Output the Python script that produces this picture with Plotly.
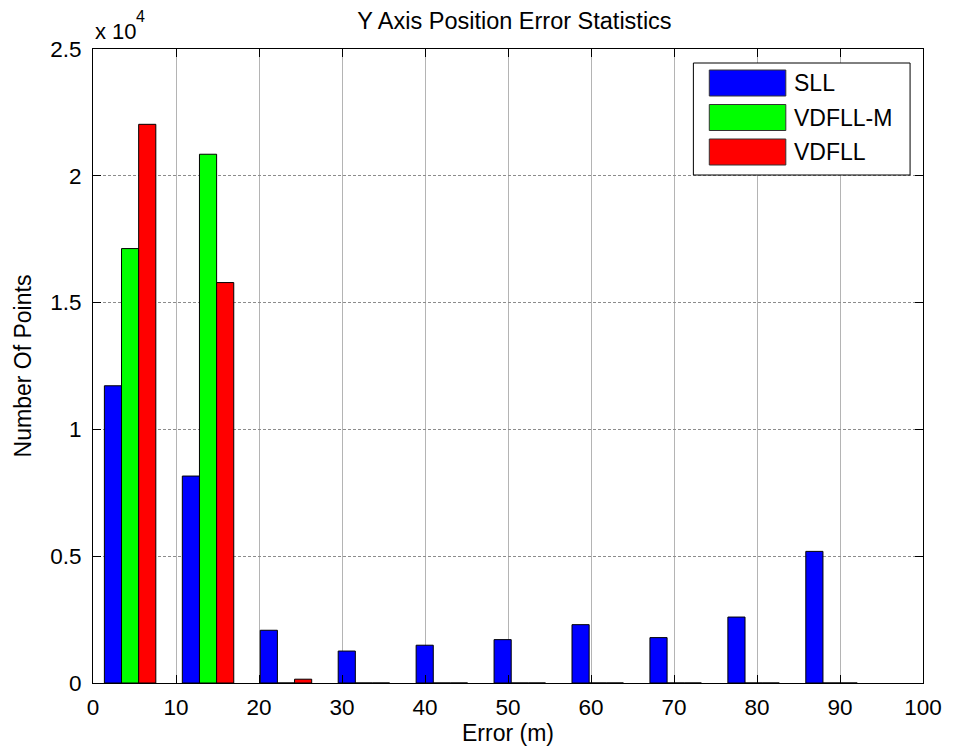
import plotly.graph_objects as go

# Histogram bin centres (m) and counts per tracking loop
bin_centers = [4.47, 13.86, 23.25, 32.64, 42.03, 51.42, 60.81, 70.20, 79.59, 88.98]
sll = [11720, 8160, 2080, 1260, 1490, 1710, 2300, 1790, 2600, 5190]
vdfll_m = [17130, 20850, 0, 0, 0, 0, 0, 0, 0, 0]
vdfll = [22030, 15790, 150, 0, 0, 0, 0, 0, 0, 0]

series_names = ["SLL", "VDFLL-M", "VDFLL"]
series_colors = ["#0000FF", "#00FF00", "#FF0000"]

x_ticks = [0, 10, 20, 30, 40, 50, 60, 70, 80, 90, 100]
y_ticks = [0, 5000, 10000, 15000, 20000, 25000]
y_tick_text = ["0", "0.5", "1", "1.5", "2", "2.5"]

FONT = "Liberation Sans, Arial, sans-serif"

fig = go.Figure()
for name, vals, col in zip(series_names, [sll, vdfll_m, vdfll], series_colors):
    fig.add_trace(go.Bar(
        x=bin_centers, y=vals, name=name,
        marker=dict(color=col, line=dict(color="black", width=1)),
        showlegend=False,
    ))

W, H = 954, 754
L, R, T, B = 93, 26, 49, 71
pw, ph = W - L - R, H - T - B


def px(xp):
    return (xp - L) / pw


def py(yp):
    return (H - B - yp) / ph


# Legend box drawn in paper coordinates
shapes = [dict(type="rect", xref="paper", yref="paper",
               x0=px(697), x1=px(915), y0=py(175), y1=py(63),
               line=dict(color="black", width=1), fillcolor="white", layer="above")]
annotations = []
row_centers = [83, 117.5, 152]
for name, col, yc in zip(series_names, series_colors, row_centers):
    shapes.append(dict(type="rect", xref="paper", yref="paper",
                       x0=px(713), x1=px(790), y0=py(yc + 13), y1=py(yc - 13),
                       line=dict(color="#333333", width=1), fillcolor=col, layer="above"))
    annotations.append(dict(xref="paper", yref="paper", x=px(796), y=py(yc),
                            xanchor="left", yanchor="middle", showarrow=False,
                            text=name, font=dict(family=FONT, size=23, color="black")))

# Exponent label for the y axis: "x 10" with a raised "4"
annotations.append(dict(xref="paper", yref="paper", x=px(93), y=py(32),
                        xanchor="left", yanchor="middle", showarrow=False,
                        text="x 10", font=dict(family=FONT, size=22, color="black")))
annotations.append(dict(xref="paper", yref="paper", x=px(134), y=py(16),
                        xanchor="left", yanchor="middle", showarrow=False,
                        text="4", font=dict(family=FONT, size=16, color="black")))

fig.update_layout(
    width=W, height=H,
    margin=dict(l=L, r=R, t=T, b=B),
    paper_bgcolor="white", plot_bgcolor="white",
    barmode="group", bargap=0.34, bargroupgap=0,
    font=dict(family=FONT, size=22, color="black"),
    title=dict(text="Y Axis Position Error Statistics", x=px(517), xref="paper",
               xanchor="center", y=1 - 21 / H, yanchor="middle",
               font=dict(family=FONT, size=23.5, color="black")),
    shapes=shapes, annotations=annotations,
)

fig.update_xaxes(
    range=[0, 100], tickvals=x_ticks, ticks="inside", ticklen=8, tickcolor="black",
    showline=True, linecolor="black", linewidth=1, mirror="allticks",
    showgrid=True, gridcolor="#b4b4b4", gridwidth=1,
    zeroline=False, ticklabelstandoff=4,
    tickfont=dict(family=FONT, size=22.5),
    title=dict(text="Error (m)", standoff=5, font=dict(family=FONT, size=23)),
)
fig.update_yaxes(
    range=[0, 25000], tickvals=y_ticks, ticktext=y_tick_text,
    ticks="inside", ticklen=8, tickcolor="black",
    showline=True, linecolor="black", linewidth=1, mirror="allticks",
    showgrid=True, gridcolor="#8c8c8c", gridwidth=1, griddash="3px,2px",
    zeroline=False, ticklabelstandoff=6,
    tickfont=dict(family=FONT, size=22.5),
    title=dict(text="Number Of Points", standoff=12, font=dict(family=FONT, size=23)),
)

fig.write_html("out.html")
